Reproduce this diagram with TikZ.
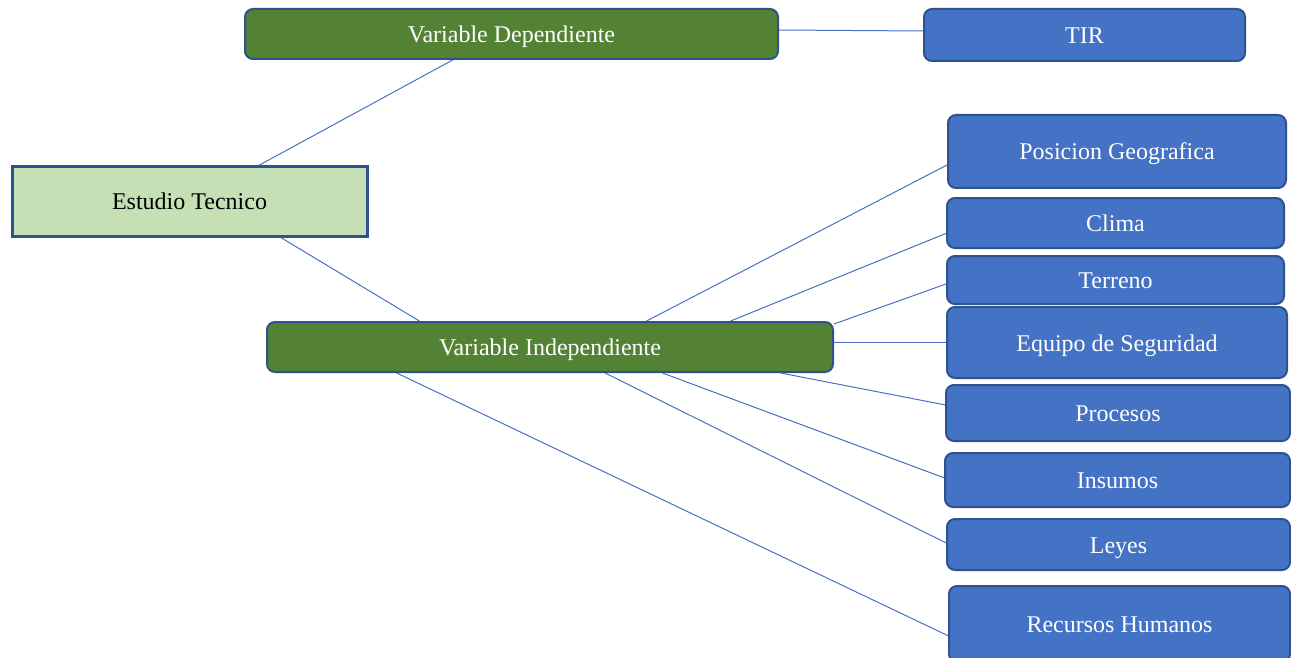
\documentclass[tikz,border=0pt]{standalone}
\usepackage{fontspec}
\setmainfont{Liberation Serif}
\usetikzlibrary{calc}

\definecolor{verde}{HTML}{548235}
\definecolor{verdeclaro}{HTML}{C5E0B4}
\definecolor{azul}{HTML}{4472C4}
\definecolor{borde}{HTML}{2F528F}

\tikzset{
  caja/.style={draw=borde, line width=1pt, rounded corners=4pt, inner sep=0pt,
    text=white, text height=8.5pt, text depth=0pt,
    font=\fontsize{12}{14}\selectfont},
  var/.style={caja, fill=verde},
  hoja/.style={caja, fill=azul},
  linea/.style={azul, line width=0.5pt}
}

\begin{document}
\begin{tikzpicture}[x=0.5pt, y=-0.5pt]
\useasboundingbox (0,0) rectangle (1291,658);

\node [draw=borde, line width=1.5pt, fill=verdeclaro, inner sep=0pt,
  minimum width=177.5pt, minimum height=34.5pt,
  font=\fontsize{12}{14}\selectfont] (ET) at (189.5, 201.5) {Estudio Tecnico};

\node [var, minimum width=266.5pt, minimum height=25pt] (VD) at (511.5, 34) {Variable Dependiente};
\node [var, minimum width=283pt, minimum height=25pt] (VI) at (550, 347) {Variable Independiente};

\node [hoja, minimum width=160.5pt, minimum height=26pt] (TIR) at (1084.5, 35) {TIR};

\node [hoja, minimum width=169pt, minimum height=36.5pt] (PG) at (1117, 151.5) {Posicion Geografica};
\node [hoja, minimum width=168.5pt, minimum height=25pt] (CL) at (1115.5, 223) {Clima};
\node [hoja, minimum width=168.5pt, minimum height=24pt] (TE) at (1115.5, 280) {Terreno};
\node [hoja, minimum width=170pt, minimum height=35.5pt] (ES) at (1117, 342.5) {Equipo de Seguridad};
\node [hoja, minimum width=172pt, minimum height=28pt] (PR) at (1118, 413) {Procesos};
\node [hoja, minimum width=172.5pt, minimum height=27pt] (IN) at (1117.5, 480) {Insumos};
\node [hoja, minimum width=171.5pt, minimum height=25.5pt] (LE) at (1118.5, 544.5) {Leyes};
\node [hoja, minimum width=170.5pt, minimum height=38pt] (RH) at (1119.5, 624) {Recursos Humanos};

\draw[linea] ($(ET.north west)!0.693!(ET.north east)$) -- ($(VD.south west)!0.39!(VD.south east)$);
\draw[linea] ($(ET.south west)!0.755!(ET.south east)$) -- ($(VI.north west)!0.27!(VI.north east)$);
\draw[linea] ([yshift=2pt]VD.east) -- ([yshift=2pt]TIR.west);

\draw[linea] ($(VI.north west)!0.67!(VI.north east)$) -- ($(PG.north west)!0.68!(PG.south west)$);
\draw[linea] ($(VI.north west)!0.818!(VI.north east)$) -- ($(CL.north west)!0.7!(CL.south west)$);
\draw[linea] ([yshift=-1.5pt]VI.north east) -- ($(TE.north west)!0.58!(TE.south west)$);
\draw[linea] ([yshift=2.25pt]VI.east) -- (ES.west);
\draw[linea] ($(VI.south west)!0.906!(VI.south east)$) -- ($(PR.north west)!0.36!(PR.south west)$);
\draw[linea] ($(VI.south west)!0.698!(VI.south east)$) -- ($(IN.north west)!0.46!(IN.south west)$);
\draw[linea] ($(VI.south west)!0.597!(VI.south east)$) -- ($(LE.north west)!0.47!(LE.south west)$);
\draw[linea] ($(VI.south west)!0.23!(VI.south east)$) -- ($(RH.north west)!0.65!(RH.south west)$);

\end{tikzpicture}
\end{document}
